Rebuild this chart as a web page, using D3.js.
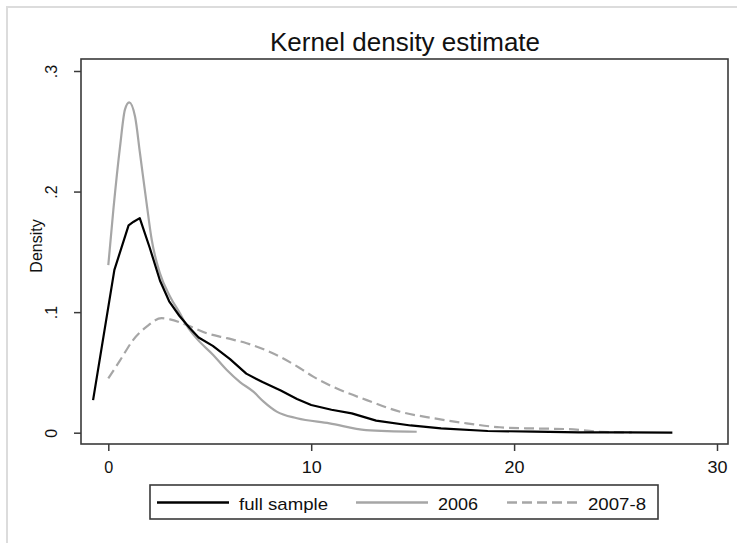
<!DOCTYPE html>
<html>
<head>
<meta charset="utf-8">
<script src="https://cdn.jsdelivr.net/npm/d3@7"></script>
<style>
  html, body { margin: 0; padding: 0; background: #fff; }
  svg { display: block; }
  text { font-family: "Liberation Sans", Arial, sans-serif; fill: #111; }
</style>
</head>
<body>
<svg id="chart" width="737" height="543"></svg>
<script>
// ---- data ----
const fullX = [-0.75, 0.3, 1.0, 1.25, 1.55, 2.05, 2.55, 3.0, 3.5, 4.0, 4.45, 5.15, 6.0, 6.8, 7.6, 8.5, 9.3, 10.0, 11.0, 12.0, 13.2, 14.9, 16.4, 18.7, 21.0, 23.2, 25.5, 27.8];
const fullY = [0.027, 0.135, 0.172, 0.175, 0.178, 0.153, 0.126, 0.109, 0.097, 0.087, 0.079, 0.072, 0.061, 0.049, 0.042, 0.035, 0.028, 0.023, 0.019, 0.016, 0.010, 0.006, 0.0036, 0.0014, 0.0009, 0.0003, 0.0002, 0.0001];

const y2006X = [0, 0.25, 0.58, 0.82, 1.03, 1.32, 1.56, 1.89, 2.14, 2.55, 3.04, 3.53, 3.86, 4.36, 5.17, 5.84, 6.49, 7.15, 7.64, 8.3, 9.3, 10.9, 12.7, 15.2];
const y2006Y = [0.139, 0.185, 0.2375, 0.268, 0.274, 0.262, 0.232, 0.19, 0.16, 0.132, 0.113, 0.099, 0.089, 0.078, 0.0645, 0.052, 0.042, 0.034, 0.026, 0.0175, 0.012, 0.0078, 0.0022, 0.0008];

const y0708X = [0, 0.58, 1.23, 1.89, 2.63, 3.04, 3.86, 4.85, 5.84, 6.82, 8.46, 9.45, 10.1, 11.09, 12.74, 14.38, 16.02, 17.66, 19.3, 21.0, 22.6, 24.2, 25.8];
const y0708Y = [0.045, 0.060, 0.077, 0.088, 0.095, 0.094, 0.0894, 0.0825, 0.0784, 0.0742, 0.063, 0.0535, 0.0465, 0.038, 0.027, 0.0174, 0.012, 0.0078, 0.0045, 0.0035, 0.003, 0.0008, 0.0002];

const seriesNames = ["full sample", "2006", "2007-8"];
const xTicks = [0, 10, 20, 30];
const yTicks = [0, 0.1, 0.2, 0.3];
const yTickLabels = ["0", ".1", ".2", ".3"];
const titleText = "Kernel density estimate";
const yAxisTitle = "Density";

// ---- layout ----
const svg = d3.select("#chart");
const frame = {left: 81, top: 59, right: 728, bottom: 444};
const x = d3.scaleLinear().domain([0, 30]).range([108.3, 717]);
const y = d3.scaleLinear().domain([0, 0.3]).range([432.7, 71]);

// outer light frame
svg.append("path")
  .attr("d", "M7,545 L7,7 L740,7")
  .attr("fill", "none").attr("stroke", "#dcdcdc").attr("stroke-width", 2);

// title
svg.append("text")
  .attr("x", 405).attr("y", 51)
  .attr("text-anchor", "middle")
  .attr("font-size", 25)
  .attr("textLength", 270).attr("lengthAdjust", "spacingAndGlyphs")
  .text(titleText);

// plot frame
svg.append("rect")
  .attr("x", frame.left).attr("y", frame.top)
  .attr("width", frame.right - frame.left).attr("height", frame.bottom - frame.top)
  .attr("fill", "#fff").attr("stroke", "#3a3a3a").attr("stroke-width", 1.6);

// x axis
const xAxis = svg.append("g")
  .attr("transform", `translate(0,${frame.bottom})`)
  .call(d3.axisBottom(x).tickValues(xTicks).tickSize(7).tickSizeOuter(0));
xAxis.select(".domain").remove();
xAxis.selectAll(".tick line").attr("stroke", "#3a3a3a").attr("stroke-width", 1.5);
xAxis.selectAll(".tick text")
  .attr("y", 29).attr("dy", 0)
  .attr("font-size", 17)
  .attr("fill", "#111")
  .attr("font-family", "Liberation Sans, Arial, sans-serif")
  .each(function(d) {
    const s = String(d);
    d3.select(this).attr("textLength", s.length === 1 ? 9 : 20).attr("lengthAdjust", "spacingAndGlyphs");
  });

// y axis
const yAxis = svg.append("g")
  .attr("transform", `translate(${frame.left},0)`)
  .call(d3.axisLeft(y).tickValues(yTicks).tickSize(7).tickSizeOuter(0)
    .tickFormat((d, i) => yTickLabels[i]));
yAxis.select(".domain").remove();
yAxis.selectAll(".tick line").attr("stroke", "#3a3a3a").attr("stroke-width", 1.5);
yAxis.selectAll(".tick text")
  .attr("x", 0).attr("y", 0).attr("dy", 0)
  .attr("transform", "translate(-24,0) rotate(-90)")
  .attr("text-anchor", "middle")
  .attr("font-size", 16)
  .attr("fill", "#111")
  .attr("font-family", "Liberation Sans, Arial, sans-serif");

// y axis title
svg.append("text")
  .attr("transform", "translate(42,246) rotate(-90)")
  .attr("text-anchor", "middle")
  .attr("font-size", 16)
  .text(yAxisTitle);

// curves
const line = d3.line().x(d => x(d[0])).y(d => y(d[1])).curve(d3.curveMonotoneX);
const lineLin = d3.line().x(d => x(d[0])).y(d => y(d[1]));
const zip = (a, b) => a.map((v, i) => [v, b[i]]);

const plot = svg.append("g");
plot.append("path").datum(zip(y2006X, y2006Y))
  .attr("d", line).attr("fill", "none")
  .attr("stroke", "#a6a6a6").attr("stroke-width", 2.2);
plot.append("path").datum(zip(y0708X, y0708Y))
  .attr("d", line).attr("fill", "none")
  .attr("stroke", "#a6a6a6").attr("stroke-width", 2.2)
  .attr("stroke-dasharray", "10,5");
plot.append("path").datum(zip(fullX, fullY))
  .attr("d", lineLin).attr("fill", "none")
  .attr("stroke", "#000").attr("stroke-width", 2.2).attr("stroke-linejoin", "round");

// legend
const leg = svg.append("g");
leg.append("rect")
  .attr("x", 150).attr("y", 485).attr("width", 508).attr("height", 34)
  .attr("fill", "#fff").attr("stroke", "#3a3a3a").attr("stroke-width", 1.6);
const legItems = [
  {name: seriesNames[0], x1: 157, x2: 229, tx: 239, tw: 89, color: "#000", dash: null},
  {name: seriesNames[1], x1: 356, x2: 428, tx: 438, tw: 40, color: "#a6a6a6", dash: null},
  {name: seriesNames[2], x1: 507, x2: 579, tx: 588, tw: 58, color: "#a6a6a6", dash: "10,5"}
];
legItems.forEach(it => {
  leg.append("line")
    .attr("x1", it.x1).attr("x2", it.x2).attr("y1", 502.5).attr("y2", 502.5)
    .attr("stroke", it.color).attr("stroke-width", 2.4)
    .attr("stroke-dasharray", it.dash);
  leg.append("text")
    .attr("x", it.tx).attr("y", 509.5)
    .attr("font-size", 17)
    .attr("textLength", it.tw).attr("lengthAdjust", "spacingAndGlyphs")
    .text(it.name);
});
</script>
</body>
</html>
